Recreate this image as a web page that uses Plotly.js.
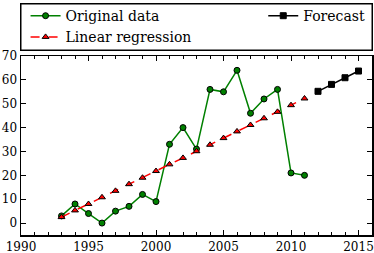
<!DOCTYPE html>
<html><head><meta charset="utf-8">
<script src="https://cdn.plot.ly/plotly-3.0.1.min.js"></script>
<style>
html,body{margin:0;padding:0;background:#fff}
#c{width:374px;height:253px}
</style>
</head><body><div id="c"></div>
<script>
var years = [1993,1994,1995,1996,1997,1998,1999,2000,2001,2002,2003,2004,2005,2006,2007,2008,2009,2010,2011];
var original = [3,8,4,0,5,7,12,9,33,40,31,56,55,64,46,52,56,21,20];
var regression = [2.5,5.3,8.0,10.8,13.5,16.3,19.0,21.8,24.6,27.3,30.1,32.8,35.6,38.4,41.1,43.9,46.6,49.4,52.2];
var forecastYears = [2012,2013,2014,2015];
var forecast = [55.2,58.1,60.9,63.7];
var xTicks = [1990,1995,2000,2005,2010,2015];
var yTicks = [0,10,20,30,40,50,60,70];

var F = '"DejaVu Serif", "Liberation Serif", serif';
var traces = [
 {x:years,y:original,name:'Original data',mode:'lines+markers',legend:'legend',
  line:{color:'#008000',width:1.5},marker:{symbol:'circle',size:6,color:'#008000',line:{color:'#000',width:1}}},
 {x:years,y:regression,name:'Linear regression',mode:'lines+markers',legend:'legend',
  line:{color:'#ff0000',width:1.5,dash:'dash'},marker:{symbol:'triangle-up',size:6,color:'#ff0000',line:{color:'#000',width:1}}},
 {x:forecastYears,y:forecast,name:'Forecast',mode:'lines+markers',legend:'legend2',
  line:{color:'#000',width:1.5},marker:{symbol:'square',size:6,color:'#000',line:{color:'#000',width:1}}}
];
var legFont = {family:F,size:14,color:'#000'};
var layout = {
 width:374,height:253,margin:{l:21,r:2,t:55,b:18},
 paper_bgcolor:'#fff',plot_bgcolor:'#fff',
 font:{family:F,size:12,color:'#000'},
 showlegend:true,
 legend:{orientation:'v',x:0.013,xanchor:'left',y:1.305,yanchor:'top',
   font:legFont,bgcolor:'rgba(0,0,0,0)',borderwidth:0,tracegroupgap:0,itemwidth:30},
 legend2:{orientation:'v',x:0.995,xanchor:'right',y:1.305,yanchor:'top',
   font:legFont,bgcolor:'rgba(0,0,0,0)',borderwidth:0,itemwidth:30},
 annotations:[{xref:'paper',yref:'paper',x:-0.00285,xanchor:'left',y:1.2944,yanchor:'top',
   text:'&nbsp;',showarrow:false,width:350,height:45,borderpad:0,
   bordercolor:'#000',borderwidth:1.5,bgcolor:'rgba(0,0,0,0)'}],
 xaxis:{range:[1990,2016],tickvals:xTicks,ticks:'inside',ticklen:5,tickcolor:'#000',
   showline:true,mirror:'ticks',linecolor:'#000',linewidth:1.5,showgrid:false,zeroline:false,
   minor:{dtick:1,ticks:'inside',ticklen:3,tickcolor:'#000'},tickfont:{family:F,size:12}},
 yaxis:{range:[-5,70],tickvals:yTicks,ticks:'inside',ticklen:5,tickcolor:'#000',
   showline:true,mirror:'ticks',linecolor:'#000',linewidth:1.5,showgrid:false,zeroline:false,
   tickfont:{family:F,size:12}}
};
Plotly.newPlot('c',traces,layout,{displayModeBar:false,staticPlot:true});
</script></body></html>
